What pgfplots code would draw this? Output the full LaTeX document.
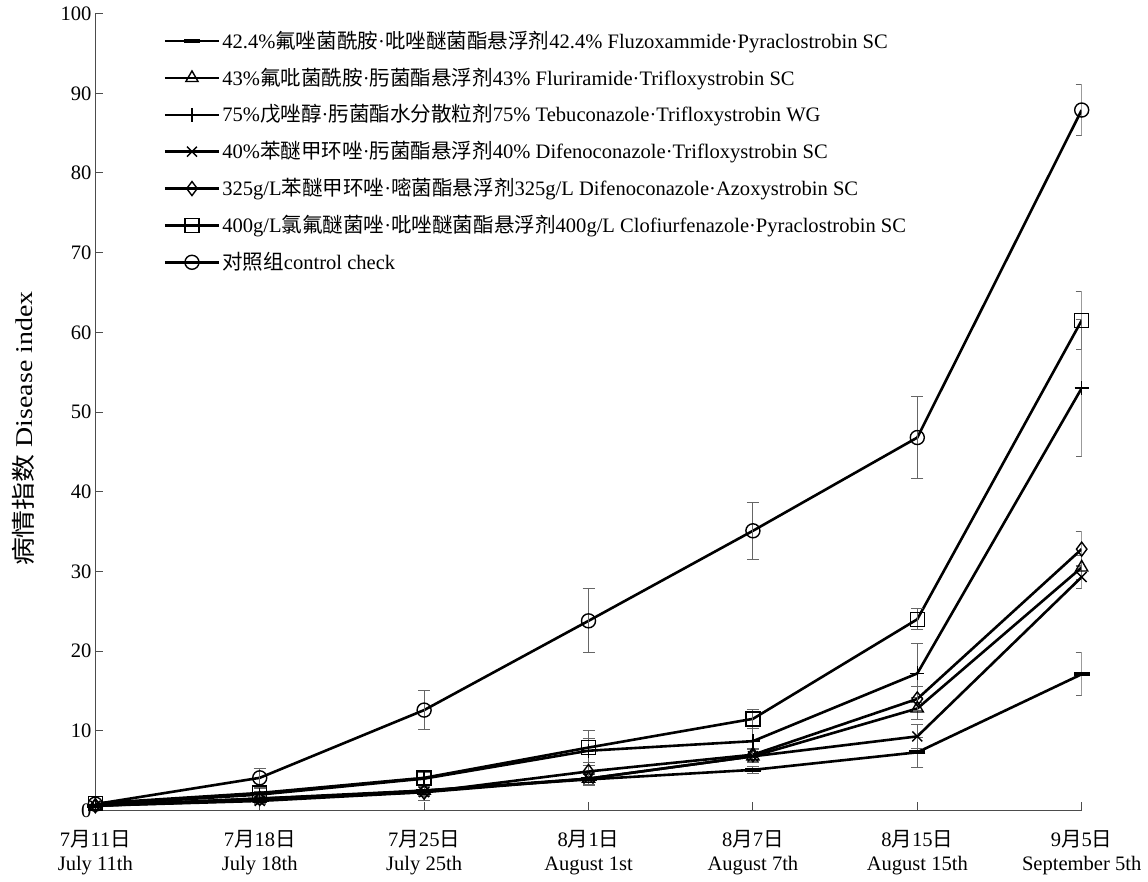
\documentclass[border=0pt]{standalone}
\usepackage{graphicx}
\usepackage{pgfplots}
\pgfplotsset{compat=1.18}
\usepackage{fontspec}
\setmainfont{Liberation Serif}
\newfontfamily\cjk{Noto Sans CJK SC}
\begin{document}
\fontsize{20}{24}\selectfont
\begin{tikzpicture}
\begin{axis}[
  width=984pt, height=795pt, scale only axis,
  xmin=0, xmax=6, ymin=0, ymax=100,
  axis lines=left, axis line style={-, black!70, line width=1pt},
  tick style={black!70, line width=1pt}, tick align=inside, major tick length=8pt,
  ytick={0,10,...,100},
  xtick={0,1,2,3,4,5,6},
  xticklabels={{7{\cjk 月}11{\cjk 日}\\July 11th},{7{\cjk 月}18{\cjk 日}\\July 18th},{7{\cjk 月}25{\cjk 日}\\July 25th},{8{\cjk 月}1{\cjk 日}\\August 1st},{8{\cjk 月}7{\cjk 日}\\August 7th},{8{\cjk 月}15{\cjk 日}\\August 15th},{9{\cjk 月}5{\cjk 日}\\September 5th}},
  xticklabel style={align=center, font=\fontsize{20.5}{24}\selectfont, yshift=-13pt},
  yticklabel style={font=\fontsize{20.5}{24}\selectfont, xshift=3pt},
  /pgf/number format/assume math mode=true,
  ylabel={\scalebox{1.16}[1]{{\cjk 病情指数} Disease index}},
  every axis y label/.style={at={(axis description cs:-0.0732,0.479)}, rotate=90, anchor=center, inner sep=12pt, font=\fontsize{24}{26}\selectfont},
  legend cell align=left,
  legend style={draw=none, fill=none, at={(0.069,0.981)}, anchor=north west, font=\fontsize{20.5}{24}\selectfont, row sep=12.5pt, inner sep=0pt},
  legend image code/.code={\draw[mark repeat=2,mark phase=2] plot coordinates {(0pt,0pt)(27pt,0pt)(54pt,0pt)};},
  error bars/y dir=both, error bars/y explicit,
  error bars/error bar style={line width=1pt, black!60, solid},
  error bars/error mark options={rotate=90, mark size=6pt, line width=1pt, black!60, solid},
]
\pgfplotsset{my/.style={black, solid, line width=2.6pt, mark size=7pt, mark options={solid, black, line width=1.4pt, fill=white}}}
\addplot[my, mark=-, mark options={solid, black, line width=4pt, mark size=8pt}] table[x=x,y=y,y error=e] {
x y e
0 0.6 0.2
1 1.3 0.4
2 2.5 0.5
3 3.9 0.6
4 5.1 0.4
5 7.3 1.9
6 17.1 2.7
};
\addlegendentry{42.4\%{\cjk 氟唑菌酰胺}·{\cjk 吡唑醚菌酯悬浮剂}42.4\% Fluzoxammide·Pyraclostrobin SC}
\addplot[my, mark=triangle] table[x=x,y=y,y error=e] {
x y e
0 0.6 0.2
1 1.5 0.4
2 2.5 0.6
3 4.0 0.8
4 6.8 0.8
5 12.8 1.4
6 30.5 1.5
};
\addlegendentry{43\%{\cjk 氟吡菌酰胺}·{\cjk 肟菌酯悬浮剂}43\% Fluriramide·Trifloxystrobin SC}
\addplot[my, mark=+] table[x=x,y=y,y error=e] {
x y e
0 0.7 0.2
1 2.0 0.4
2 4.0 0.8
3 7.5 1.5
4 8.7 1.8
5 17.2 3.7
6 53.0 8.6
};
\addlegendentry{75\%{\cjk 戊唑醇}·{\cjk 肟菌酯水分散粒剂}75\% Tebuconazole·Trifloxystrobin WG}
\addplot[my, mark=x] table[x=x,y=y,y error=e] {
x y e
0 0.6 0.2
1 1.2 0.4
2 2.3 0.6
3 4.0 0.7
4 6.8 0.8
5 9.3 1.5
6 29.3 1.5
};
\addlegendentry{40\%{\cjk 苯醚甲环唑}·{\cjk 肟菌酯悬浮剂}40\% Difenoconazole·Trifloxystrobin SC}
\addplot[my, mark=diamond] table[x=x,y=y,y error=e] {
x y e
0 0.6 0.2
1 1.5 0.4
2 2.3 1.0
3 4.9 0.8
4 7.0 0.8
5 14.0 1.5
6 32.8 2.2
};
\addlegendentry{325g/L{\cjk 苯醚甲环唑}·{\cjk 嘧菌酯悬浮剂}325g/L Difenoconazole·Azoxystrobin SC}
\addplot[my, mark=square] table[x=x,y=y,y error=e] {
x y e
0 0.9 0.2
1 2.2 0.5
2 4.1 0.9
3 7.9 2.2
4 11.5 1.2
5 24.0 1.3
6 61.5 3.6
};
\addlegendentry{400g/L{\cjk 氯氟醚菌唑}·{\cjk 吡唑醚菌酯悬浮剂}400g/L Clofiurfenazole·Pyraclostrobin SC}
\addplot[my, mark=o] table[x=x,y=y,y error=e] {
x y e
0 0.8 0.2
1 4.1 1.2
2 12.6 2.4
3 23.8 4.0
4 35.1 3.6
5 46.8 5.1
6 87.9 3.2
};
\addlegendentry{{\cjk 对照组}control check}
\end{axis}
\end{tikzpicture}
\end{document}
